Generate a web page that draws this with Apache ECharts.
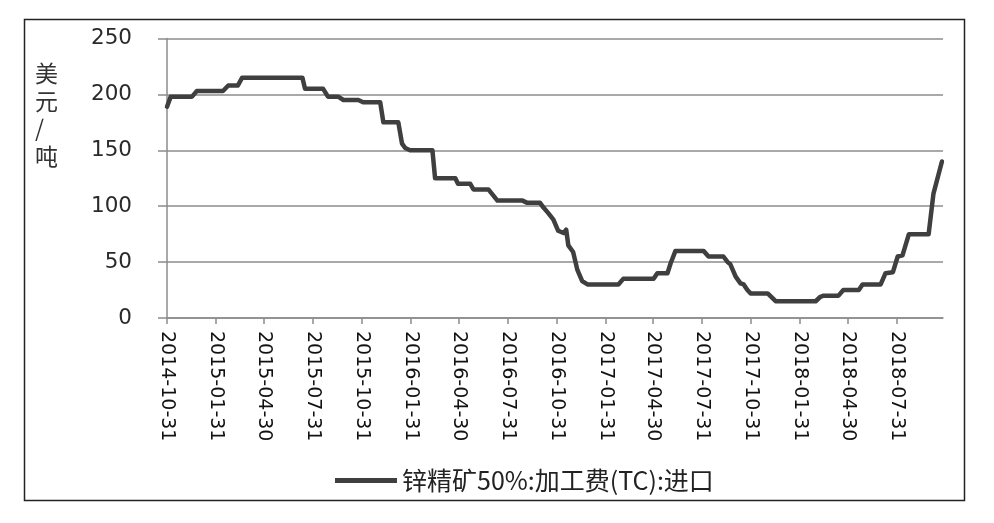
<!DOCTYPE html>
<html>
<head>
<meta charset="utf-8">
<script src="https://cdn.jsdelivr.net/npm/echarts@6/dist/echarts.min.js"></script>
<style>html,body{margin:0;padding:0;background:#fff}#c{width:994px;height:523px}</style>
</head>
<body>
<div id="c"></div>
<script>
const seriesName = '锌精矿50%:加工费(TC):进口';
const unitLabel = '美\n元\n/\n吨';
const tickDates = ['2014-10-31','2015-01-31','2015-04-30','2015-07-31','2015-10-31','2016-01-31','2016-04-30','2016-07-31','2016-10-31','2017-01-31','2017-04-30','2017-07-31','2017-10-31','2018-01-31','2018-04-30','2018-07-31'];
const dates = ['2014-10-31','2014-11-07','2014-12-17','2014-12-26','2015-02-13','2015-02-23','2015-03-13','2015-03-21','2015-07-12','2015-07-17','2015-08-20','2015-08-29','2015-09-17','2015-09-27','2015-10-25','2015-11-03','2015-12-05','2015-12-11','2016-01-08','2016-01-15','2016-01-21','2016-01-30','2016-03-12','2016-03-17','2016-04-24','2016-04-29','2016-05-22','2016-05-28','2016-06-25','2016-07-12','2016-08-28','2016-09-06','2016-09-30','2016-10-06','2016-10-15','2016-10-25','2016-11-03','2016-11-13','2016-11-18','2016-11-22','2016-12-01','2016-12-09','2016-12-18','2016-12-28','2017-02-24','2017-03-05','2017-05-01','2017-05-08','2017-05-27','2017-06-02','2017-06-11','2017-08-03','2017-08-12','2017-09-09','2017-09-17','2017-09-22','2017-10-02','2017-10-11','2017-10-17','2017-10-24','2017-10-30','2017-12-01','2017-12-16','2018-03-01','2018-03-10','2018-03-16','2018-04-13','2018-04-22','2018-05-21','2018-05-28','2018-07-01','2018-07-10','2018-07-24','2018-08-02','2018-08-11','2018-08-23','2018-09-29','2018-10-08','2018-10-24'];
const values = [189,198,198,203,203,208,208,215,215,205,205,198,198,195,195,193,193,175,175,156,152,150,150,125,125,120,120,115,115,105,105,103,103,99,94,88,78,76,79,65,59,43,33,30,30,35,35,40,40,49,60,60,55,55,50,48,37,31,30,25,22,22,15,15,19,20,20,25,25,30,30,40,41,55,56,75,75,111,140];
const yTicks = [0,50,100,150,200,250];
const axisStart = '2014-10-31';
const axisEnd = '2018-10-26';

const toTs = s => { const p = s.split('-').map(Number); return new Date(p[0], p[1]-1, p[2]).getTime(); };
const fmt = v => { const d = new Date(v); const p = n => String(n).padStart(2,'0'); return d.getFullYear()+'-'+p(d.getMonth()+1)+'-'+p(d.getDate()); };
const tickTs = tickDates.map(toTs);
const pairs = dates.map((d,i) => [toTs(d), values[i]]);

const chart = echarts.init(document.getElementById('c'), null, {renderer:'canvas'});
chart.setOption({
  animation: false,
  backgroundColor: '#fff',
  grid: {left:167, right:51, top:38.5, bottom:205, containLabel:false},
  xAxis: {
    type: 'value',
    min: toTs(axisStart),
    max: toTs(axisEnd),
    axisLine: {show:true, lineStyle:{color:'#8c8c8c', width:1.5}},
    axisTick: {show:true, customValues: tickTs, length:6, lineStyle:{color:'#8c8c8c', width:1.5}},
    axisLabel: {
      customValues: tickTs, rotate:-90, margin:13, fontSize:19,
      fontFamily:'DejaVu Sans', color:'#111', hideOverlap:false,
      formatter: v => fmt(v)
    },
    splitLine: {show:false}
  },
  yAxis: {
    type: 'value', min:yTicks[0], max:yTicks[yTicks.length-1], interval:50,
    axisLine: {show:true, lineStyle:{color:'#8c8c8c', width:1.5}},
    axisTick: {show:true, length:9, lineStyle:{color:'#8c8c8c', width:1.5}},
    axisLabel: {margin:35, fontSize:21.5, fontFamily:'DejaVu Sans', color:'#2a2a2a'},
    splitLine: {show:true, lineStyle:{color:'#8c8c8c', width:1.5}}
  },
  legend: {
    left: 330, top: 463,
    icon: 'rect', itemWidth: 62, itemHeight: 5, itemGap: 10,
    textStyle: {fontSize:25, fontFamily:'Noto Sans CJK SC', color:'#222'},
    data: [seriesName]
  },
  graphic: [
    {type:'rect', left:22, top:17, shape:{width:940, height:481}, style:{fill:'none', stroke:'#222', lineWidth:1.5}, silent:true},
    {type:'text', left:35, top:60, style:{text:unitLabel, fontSize:23, lineHeight:27.5, fontFamily:'Noto Sans CJK SC', fill:'#333', align:'center'}}
  ],
  series: [{
    name: seriesName, type: 'line', data: pairs,
    showSymbol: false, symbol: 'none',
    lineStyle: {color:'#3f3f3f', width:4.5, cap:'round', join:'round'},
    itemStyle: {color:'#3f3f3f'}
  }]
});
</script>
</body>
</html>
